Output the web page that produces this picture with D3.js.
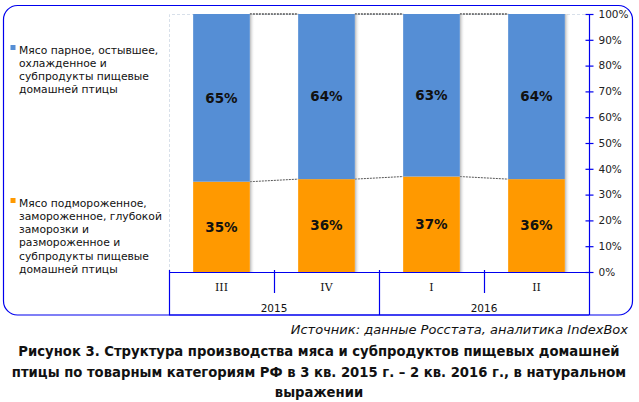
<!DOCTYPE html>
<html><head><meta charset="utf-8">
<script src="https://cdn.jsdelivr.net/npm/d3@7/dist/d3.min.js"></script>
<style>body{margin:0;background:#fff}svg{display:block}text{font-family:"DejaVu Sans",Verdana,sans-serif}</style>
</head><body>
<script>
const quarters = ["III","IV","I","II"];
const years = ["2015","2015","2016","2016"];
const yearLabels = ["2015","2016"];
const chilled = [65,64,63,64];
const frozen = [35,36,37,36];
const yTicks = [0,10,20,30,40,50,60,70,80,90,100];
const legendChilled = ["Мясо парное, остывшее,","охлажденное и","субпродукты пищевые","домашней птицы"];
const legendFrozen = ["Мясо подмороженное,","замороженное, глубокой","заморозки и","размороженное и","субпродукты пищевые","домашней птицы"];
const sourceText = "Источник: данные Росстата, аналитика IndexBox";
const titleLines = ["Рисунок 3. Структура производства мяса и субпродуктов пищевых домашней","птицы по товарным категориям РФ в 3 кв. 2015 г. – 2 кв. 2016 г., в натуральном","выражении"];

const W=639,H=402;
const svg=d3.select("body").append("svg").attr("width",W).attr("height",H);
const defs=svg.append("defs");
const g=defs.append("linearGradient").attr("id","sh").attr("x1",0).attr("x2",1);
g.append("stop").attr("offset",0).attr("stop-color","#888").attr("stop-opacity",0.6);
g.append("stop").attr("offset",1).attr("stop-color","#fff").attr("stop-opacity",0);

const blue="#558ed5", orange="#ff9900", axisC="#0000ee";
// border
svg.append("rect").attr("x",3.5).attr("y",5.5).attr("width",629).attr("height",309.5).attr("rx",14)
 .attr("fill","#fff").attr("stroke",axisC).attr("stroke-width",1.2);

const L=169,R=589,T=14,B=272;
const x=d3.scaleBand().domain(quarters.map((q,i)=>i)).range([L,R]).paddingInner(0.46).paddingOuter(0.23);
const xb=d3.scaleBand().domain(quarters.map((q,i)=>i)).range([L,R]);
const y=d3.scaleLinear().domain([0,100]).range([B,T]);

// plot area light border
svg.append("path").attr("d",`M${L+0.5},${B}V${T+0.5}H${R}`).attr("fill","none")
 .attr("stroke","#d8e0ea").attr("stroke-dasharray","3,2");

// series lines
const stackTop = chilled.map((c,i)=>c+frozen[i]);
for(let i=0;i<quarters.length-1;i++){
  svg.append("line").attr("x1",x(i)+x.bandwidth()).attr("x2",x(i+1))
   .attr("y1",y(stackTop[i])).attr("y2",y(stackTop[i+1])).attr("stroke","#000").attr("stroke-dasharray","2,1");
  svg.append("line").attr("x1",x(i)+x.bandwidth()).attr("x2",x(i+1))
   .attr("y1",y(frozen[i])).attr("y2",y(frozen[i+1])).attr("stroke","#555").attr("stroke-dasharray","2,1");
}
// shadows
svg.selectAll(".sh").data(quarters).enter().append("rect")
 .attr("x",(d,i)=>x(i)+x.bandwidth()).attr("width",5).attr("y",T).attr("height",B-T).attr("fill","url(#sh)");
// bars
svg.selectAll(".o").data(frozen).enter().append("rect")
 .attr("x",(d,i)=>x(i)).attr("width",x.bandwidth()).attr("y",d=>y(d)).attr("height",d=>B-y(d)).attr("fill",orange);
svg.selectAll(".b").data(chilled).enter().append("rect")
 .attr("x",(d,i)=>x(i)).attr("width",x.bandwidth()).attr("y",(d,i)=>y(frozen[i]+d)).attr("height",(d,i)=>y(frozen[i])-y(frozen[i]+d)).attr("fill",blue);
// labels
const lab=(v,base,i)=>svg.append("text").attr("x",x(i)+x.bandwidth()/2).attr("y",(y(base)+y(base+v))/2).attr("dy","0.35em")
 .attr("text-anchor","middle").attr("font-weight","bold").attr("font-size",13.5).attr("fill","#111").text(v+"%");
frozen.forEach((v,i)=>lab(v,0,i));
chilled.forEach((v,i)=>lab(v,frozen[i],i));

// x axis
svg.append("line").attr("x1",L).attr("x2",R).attr("y1",B+0.5).attr("y2",B+0.5).attr("stroke",axisC).attr("stroke-width",1.2);
quarters.forEach((q,i)=>{
  const xl=xb(i);
  const long = i===0 || years[i]!==years[i-1];
  svg.append("line").attr("x1",xl+0.5).attr("x2",xl+0.5).attr("y1",B-2).attr("y2",long?315:293).attr("stroke",axisC).attr("stroke-width",1.2);
  svg.append("text").attr("x",xl+xb.bandwidth()/2).attr("y",291).attr("text-anchor","middle").attr("font-size",11).attr("fill","#111")
   .style("font-family","'DejaVu Serif',serif").text(q);
});
yearLabels.forEach(yr=>{
  const idx=years.map((v,i)=>v===yr?i:-1).filter(i=>i>=0);
  const x0=xb(idx[0]), x1=xb(idx[idx.length-1])+xb.bandwidth();
  svg.append("text").attr("x",(x0+x1)/2).attr("y",312).attr("text-anchor","middle").attr("font-size",10.5).attr("fill","#111").text(yr);
});
svg.append("line").attr("x1",L).attr("x2",R).attr("y1",315).attr("y2",315).attr("stroke",axisC).attr("stroke-width",1.2);

// right axis
const ay=svg.append("g").attr("transform",`translate(${R+0.5},0)`)
 .call(d3.axisRight(y).tickValues(yTicks).tickFormat(d=>d+"%").tickSize(4).tickPadding(5));
ay.select(".domain").remove();
ay.append("line").attr("x1",0).attr("x2",0).attr("y1",T).attr("y2",315).attr("stroke",axisC).attr("stroke-width",1.2);
ay.selectAll(".tick line").attr("x1",-4).attr("stroke",axisC).attr("stroke-width",1.2);
ay.selectAll(".tick text").attr("font-size",10.5).attr("fill","#222").style("font-family","'DejaVu Sans',sans-serif");

// legend
function fitSize(lines,target,base,weight){
  const t=svg.append("text").attr("font-size",base).attr("font-weight",weight||"normal");
  let m=0; lines.forEach(l=>{t.text(l);m=Math.max(m,t.node().getComputedTextLength());});
  t.remove(); return base*target/m;
}
const lfs=fitSize(legendFrozen,143,11);
function legend(lines,color,y0){
  svg.append("rect").attr("x",10.5).attr("y",y0-5).attr("width",5).attr("height",5).attr("fill",color);
  lines.forEach((l,i)=>svg.append("text").attr("x",19).attr("y",y0+i*13.2).attr("dy","0.35em").attr("font-size",lfs).attr("fill","#111").text(l));
}
legend(legendChilled,blue,50);
legend(legendFrozen,orange,203);

// source
const sfs=fitSize([sourceText],337,12);
svg.append("text").attr("x",628).attr("y",334).attr("text-anchor","end").attr("font-style","italic").attr("font-size",sfs).attr("fill","#111").text(sourceText);
// title
const tfs=fitSize([titleLines[0]],602,13,"bold");
titleLines.forEach((l,i)=>svg.append("text").attr("x",319).attr("y",356+i*20.5).attr("text-anchor","middle").attr("font-weight","bold").attr("font-size",tfs).attr("fill","#111").text(l));
</script>
</body></html>
